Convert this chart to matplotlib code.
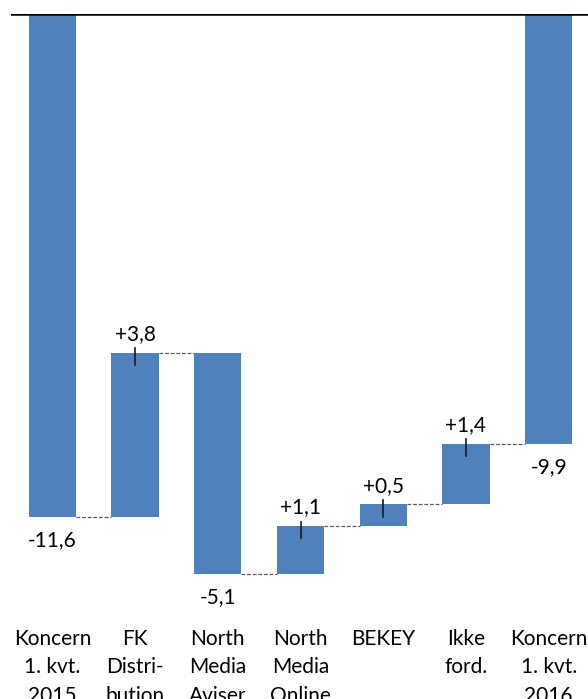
import numpy as np
import matplotlib.pyplot as plt

kategorier = ["Koncern\n1. kvt.\n2015", "FK\nDistri-\nbution", "North\nMedia\nAviser",
              "North\nMedia\nOnline", "BEKEY", "Ikke\nford.", "Koncern\n1. kvt.\n2016"]
start = -11.6
ændringer = [3.8, -5.1, 1.1, 0.5, 1.4]
slut = -9.9

plt.rcParams['font.family'] = ['Lato', 'DejaVu Sans']
blaa = '#4F81BD'

fig = plt.figure(figsize=(5.88, 6.99), dpi=100)
top_px, bund_px = 14, 612
ax = fig.add_axes([11 / 588, 1 - bund_px / 699, 579 / 588, (bund_px - top_px) / 699])

x = np.arange(len(kategorier))
bredde = 0.57

# bunde og toppe for hver søjle
niveauer = np.concatenate([[start], start + np.cumsum(ændringer)])
bunde = [0]
hoejder = [start]
for i, d in enumerate(ændringer):
    bunde.append(niveauer[i])
    hoejder.append(d)
bunde.append(0)
hoejder.append(slut)

ax.bar(x, hoejder, bottom=bunde, width=bredde, color=blaa, zorder=2)

# forbindelseslinjer
for i in range(len(x) - 1):
    y = niveauer[i] if i < len(niveauer) else slut
    ax.plot([x[i] + bredde / 2, x[i + 1] - bredde / 2], [y, y], ls=(0, (3, 1.5)),
            color='#595959', lw=0.9, zorder=1)

def fmt(v, fortegn=False):
    s = f"{v:+.1f}" if fortegn else f"{v:.1f}"
    return s.replace('.', ',')

fs = 15
# etiketter
ax.text(x[0], start - 0.3, fmt(start), ha='center', va='top', fontsize=fs)
ax.text(x[-1], slut - 0.3, fmt(slut), ha='center', va='top', fontsize=fs)
for i, d in enumerate(ændringer):
    xi = x[i + 1]
    toppunkt = max(niveauer[i], niveauer[i] + d)
    bundpunkt = min(niveauer[i], niveauer[i] + d)
    if d > 0:
        ax.text(xi, toppunkt + 0.2, fmt(d, True), ha='center', va='bottom', fontsize=fs)
        ax.plot([xi, xi], [toppunkt + 0.1, toppunkt - 0.28], color='#1a1a1a', lw=1.2, zorder=3)
    else:
        ax.text(xi, bundpunkt - 0.3, fmt(d), ha='center', va='top', fontsize=fs)

ax.axhline(0, color='black', lw=1.8, zorder=3)
ax.set_ylim(-(bund_px - top_px) / 43.4, 0)
ax.set_xlim(-0.5, len(x) - 0.5)
ax.set_yticks([])
ax.set_xticks(x)
ax.set_xticklabels(kategorier, fontsize=fs, linespacing=1.55, va='top')
ax.tick_params(axis='x', length=0, pad=12)
for s in ax.spines.values():
    s.set_visible(False)

fig.savefig('out.png', dpi=100)
